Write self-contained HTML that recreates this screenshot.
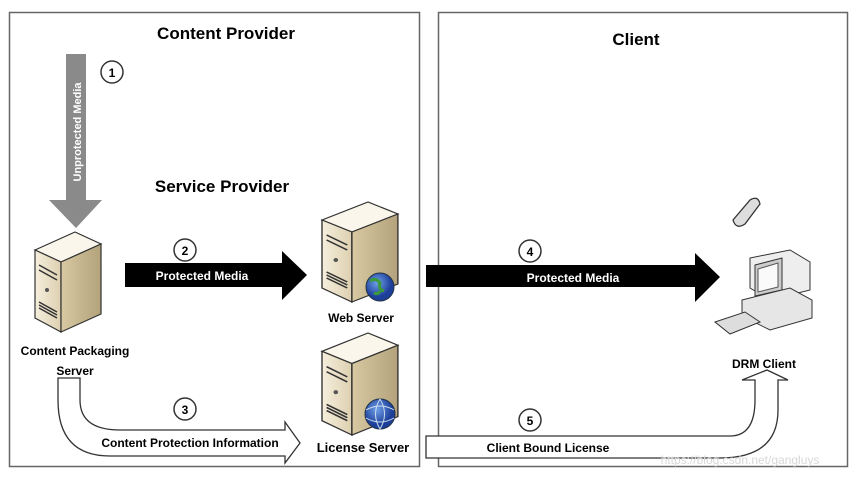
<!DOCTYPE html>
<html><head><meta charset="utf-8"><style>
html,body{margin:0;padding:0;background:#fff;}
svg{display:block;font-family:"Liberation Sans",Arial,sans-serif;font-weight:bold;}
</style></head><body>
<svg width="853" height="478" viewBox="0 0 853 478" xmlns="http://www.w3.org/2000/svg">
<defs>
<linearGradient id="beige" x1="0" x2="1"><stop offset="0" stop-color="#f6efdd"/><stop offset="1" stop-color="#ddd0b0"/></linearGradient>
<linearGradient id="side" x1="0" x2="1"><stop offset="0" stop-color="#d8c9a3"/><stop offset="1" stop-color="#b3a27c"/></linearGradient>
<radialGradient id="globe" cx="0.4" cy="0.35"><stop offset="0" stop-color="#6fa0e8"/><stop offset="1" stop-color="#1d3f9a"/></radialGradient>
<g id="server">
 <polygon points="0,18 40,0 66,12 26,30" fill="#faf6ec" stroke="#333" stroke-width="1.2"/>
 <polygon points="0,18 26,30 26,100 0,86" fill="url(#beige)" stroke="#333" stroke-width="1.2"/>
 <polygon points="26,30 66,12 66,82 26,100" fill="url(#side)" stroke="#333" stroke-width="1.2"/>
 <path d="M4,33 L22,43 M4,38 L22,48 M4,70 L22,80 M4,73 L22,83 M4,76 L22,86" stroke="#333" stroke-width="1.5"/>
 <circle cx="12" cy="58" r="2" fill="#555"/>
</g>
</defs>
<rect x="9.5" y="12.5" width="410" height="454" fill="none" stroke="#666" stroke-width="1.5"/>
<rect x="438.5" y="12.5" width="409" height="454" fill="none" stroke="#666" stroke-width="1.5"/>
<text x="226" y="39" font-size="17" text-anchor="middle">Content Provider</text>
<text x="636" y="45" font-size="17" text-anchor="middle">Client</text>
<text x="222" y="192" font-size="17" text-anchor="middle">Service Provider</text>

<!-- arrow 1 -->
<polygon points="66,54 86,54 86,200 102,200 76,228 49,200 66,200" fill="#8a8a8a"/>
<text transform="translate(81,132) rotate(-90)" font-size="11" fill="#fff" text-anchor="middle">Unprotected Media</text>
<circle cx="112" cy="72" r="11" fill="#fff" stroke="#333" stroke-width="1.5"/>
<text x="112" y="77" font-size="12" text-anchor="middle">1</text>

<!-- servers -->
<use href="#server" x="35" y="232"/>
<g transform="translate(322,202) scale(1.15,1.0)"><use href="#server"/></g>
<circle cx="380" cy="287" r="14" fill="url(#globe)" stroke="#234" stroke-width="1"/>
<path d="M370,281 q6,-4 10,2 q-2,6 4,8 M374,293 q4,2 6,-2" stroke="#3a9a3a" stroke-width="3" fill="none"/>
<g transform="translate(322,333) scale(1.15,1.02)"><use href="#server"/></g>
<circle cx="380" cy="414" r="15" fill="url(#globe)" stroke="#234" stroke-width="1"/>
<path d="M366,410 q14,-8 28,0 M366,418 q14,8 28,0 M380,399 q-9,15 0,30 M380,399 q9,15 0,30" stroke="#cde" stroke-width="1" fill="none"/>

<text x="75" y="355" font-size="12" text-anchor="middle">Content Packaging</text>
<text x="75" y="375" font-size="12" text-anchor="middle">Server</text>
<text x="361" y="322" font-size="12" text-anchor="middle">Web Server</text>
<text x="363" y="452" font-size="13" text-anchor="middle">License Server</text>

<!-- arrow 2 -->
<polygon points="125,263 282,263 282,251 307,275 282,300 282,287 125,287" fill="#000"/>
<text x="202" y="280" font-size="12" fill="#fff" text-anchor="middle">Protected Media</text>
<circle cx="185" cy="250" r="11" fill="#fff" stroke="#333" stroke-width="1.5"/>
<text x="185" y="255" font-size="12" text-anchor="middle">2</text>

<!-- arrow 3 -->
<path d="M58,378 L58,400 Q58,456 110,456 L285,456 L285,463 L300,443 L285,422 L285,430 L120,430 Q80,430 80,400 L80,378 Z" fill="#fff" stroke="#333" stroke-width="1.3"/>
<text x="190" y="447" font-size="12" text-anchor="middle">Content Protection Information</text>
<circle cx="185" cy="409" r="11" fill="#fff" stroke="#333" stroke-width="1.5"/>
<text x="185" y="414" font-size="12" text-anchor="middle">3</text>

<!-- arrow 4 -->
<polygon points="426,265 695,265 695,253 720,277 695,302 695,287 426,287" fill="#000"/>
<text x="573" y="282" font-size="12" fill="#fff" text-anchor="middle">Protected Media</text>
<circle cx="530" cy="251" r="11" fill="#fff" stroke="#333" stroke-width="1.5"/>
<text x="530" y="256" font-size="12" text-anchor="middle">4</text>

<!-- arrow 5 -->
<path d="M426,436 L730,436 Q755,436 755,400 L755,380 L742,380 L767,370 L788,380 L778,380 L778,410 Q778,458 720,458 L426,458 Z" fill="#fff" stroke="#333" stroke-width="1.3"/>
<text x="548" y="452" font-size="12" text-anchor="middle">Client Bound License</text>
<circle cx="530" cy="420" r="11" fill="#fff" stroke="#333" stroke-width="1.5"/>
<text x="530" y="425" font-size="12" text-anchor="middle">5</text>
<text x="740" y="464" font-size="12" font-weight="normal" fill="#d8d8d8" text-anchor="middle">https://blog.csdn.net/gangluys</text>

<!-- computer -->
<polygon points="750,258 790,250 810,262 810,290 770,300 750,288" fill="#eee" stroke="#333"/>
<polygon points="755,265 782,258 782,290 755,296" fill="#ccc" stroke="#333"/>
<polygon points="758,269 778,263 778,287 758,292" fill="#fafafa" stroke="#555"/>
<polygon points="742,300 790,288 812,300 812,318 770,330 742,316" fill="#e6e6e6" stroke="#333"/>
<polygon points="715,322 745,312 760,322 730,334" fill="#ddd" stroke="#333"/>
<!-- phone -->
<path d="M733,220 L750,200 Q758,195 760,204 L745,224 Q736,230 733,220 Z" fill="#ddd" stroke="#333" stroke-width="1.3"/>
<text x="764" y="368" font-size="12" text-anchor="middle">DRM Client</text>
</svg>
</body></html>
